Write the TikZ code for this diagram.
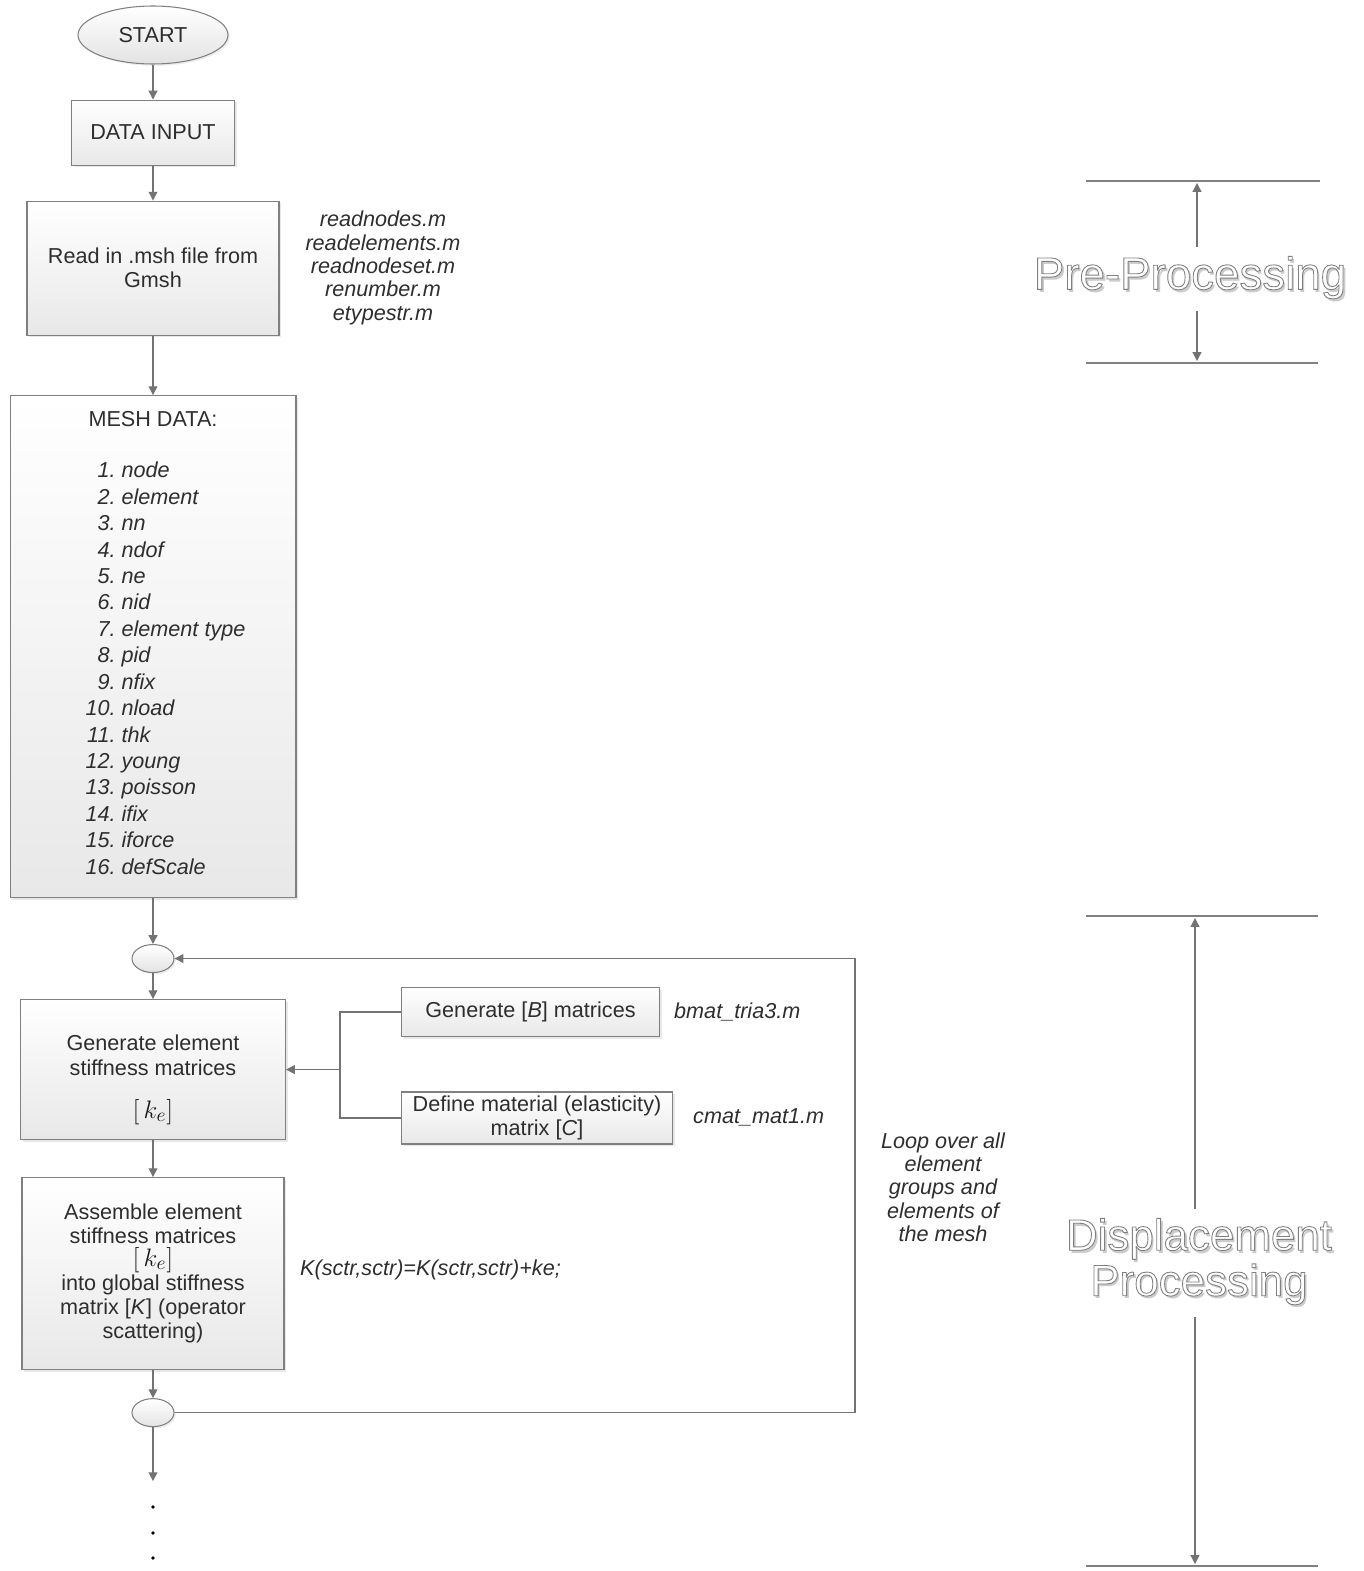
\documentclass[tikz,border=0pt]{standalone}
\usepackage{fontspec}
\setmainfont{Liberation Sans}
\usepackage{array}
\usetikzlibrary{arrows.meta, positioning, shapes.geometric, shadows, calc}

% hollow lettering (fill white, stroke grey) with a soft offset shadow
\newcommand{\hollow}[1]{\makebox[0pt][l]{\kern1.4pt\raisebox{-1.6pt}{\color{black!20}#1}}%
  {\color{white}\special{pdf:literal direct 0.5 0.5 0.5 RG 0.5 w 2 Tr}#1\special{pdf:literal direct 0 Tr}}}
\newcommand{\kmat}{\raisebox{0pt}[8pt][2pt]{\fontsize{15}{15}\selectfont\color{black!90}$\left[\,k_{e}\right]$}}

\begin{document}
\begin{tikzpicture}[
        x=0.02cm, y=-0.02cm,
        font=\fontsize{12.3}{13.8}\selectfont,
        every node/.style={text=black!82},
        box/.style={
            rectangle,
            align=center,
            draw=black!50,
            line width=0.6pt,
            top color=white,
            bottom color=black!9,
            drop shadow={shadow xshift=1.2pt, shadow yshift=-1.2pt, opacity=0.18}
        },
        term/.style={
            ellipse,
            inner sep=0pt,
            draw=black!50,
            line width=0.6pt,
            top color=white,
            bottom color=black!11,
            drop shadow={shadow xshift=1pt, shadow yshift=-1pt, opacity=0.15}
        },
        note/.style={align=center, font=\fontsize{12.3}{13.3}\selectfont\itshape},
        arr/.style={draw=black!55, line width=0.7pt, -{Triangle[length=5pt, width=5pt]}},
        link/.style={draw=black!55, line width=0.7pt},
        guide/.style={draw=black!50, line width=0.6pt},
        stage/.style={align=center, inner sep=5pt, font=\fontsize{25}{24}\selectfont}
    ]
    \useasboundingbox (0,0) rectangle (1363,1571);

    % main flow
    \node[term, minimum width=3cm, minimum height=1.16cm] (start) at (153,35) {START};
    \node[box, minimum width=3.26cm, minimum height=1.3cm, below=0.70cm of start] (input) {DATA INPUT};
    \node[box, minimum width=5.04cm, minimum height=2.68cm, below=0.70cm of input] (readmsh) {
        Read in .msh file from\\
        Gmsh
    };
    \node[box, minimum width=5.72cm, minimum height=10.04cm, below=1.19cm of readmsh] (meshdata) {
        MESH DATA:\\[15.7pt]
        \hspace*{0.5cm}\renewcommand{\arraystretch}{1.09}\itshape
        \begin{tabular}[t]{@{}>{\itshape}r@{\ }>{\itshape}l@{}}
            1. & node\\ 2. & element\\ 3. & nn\\ 4. & ndof\\
            5. & ne\\ 6. & nid\\ 7. & element type\\ 8. & pid\\
            9. & nfix\\ 10. & nload\\ 11. & thk\\ 12. & young\\
            13. & poisson\\ 14. & ifix\\ 15. & iforce\\ 16. & defScale
        \end{tabular}
    };
    \node[term, minimum width=0.84cm, minimum height=0.56cm, below=0.92cm of meshdata] (loopin) {};
    \node[box, minimum width=5.3cm, minimum height=2.8cm, below=0.52cm of loopin] (genke) {
        \rule{0pt}{19pt}Generate element\\
        stiffness matrices\\[10.6pt]
        \kmat
    };
    \node[box, minimum width=5.24cm, minimum height=3.84cm, below=0.74cm of genke] (assem) {
        Assemble element\\
        stiffness matrices\\[-1pt]
        \kmat\\
        into global stiffness\\
        matrix [\textit{K}] (operator\\
        scattering)
    };
    \node[term, minimum width=0.84cm, minimum height=0.56cm, below=0.56cm of assem] (loopout) {};

    % inputs to the element stiffness
    \node[box, anchor=west, minimum width=5.16cm, minimum height=0.98cm] (genB) at (401,1012) {Generate [\textit{B}] matrices};
    \node[box, anchor=west, minimum width=5.42cm, minimum height=1.04cm, inner ysep=1pt] (defC) at (401,1118) {
        Define material (elasticity)\\
        matrix [\textit{C}]
    };

    % side notes
    \node[note] (readfiles) at (383,268) {
        readnodes.m\\ readelements.m\\ readnodeset.m\\ renumber.m\\ etypestr.m
    };
    \node[note, anchor=west] (bmat) at (668,1012) {bmat\_tria3.m};
    \node[note, anchor=west] (cmat) at (687,1117) {cmat\_mat1.m};
    \node[note, anchor=west] (scatter) at (294,1270) {K(sctr,sctr)=K(sctr,sctr)+ke;};
    \node[note] (looptext) at (943,1187) {
        Loop over all\\ element\\ groups and\\ elements of\\ the mesh
    };

    % connectors
    \draw[arr] (start) -- (input);
    \draw[arr] (input) -- (readmsh);
    \draw[arr] (readmsh) -- (meshdata);
    \draw[arr] (meshdata) -- (loopin);
    \draw[arr] (loopin) -- (genke);
    \draw[arr] (genke) -- (assem);
    \draw[arr] (assem) -- (loopout);

    \coordinate (fork) at ([xshift=1.08cm]genke.east);
    \draw[link] (genB.west) -| (fork);
    \draw[link] (defC.west) -| (fork);
    \draw[arr] (fork) -- (genke.east);

    \coordinate (loopcorner) at (855,956);
    \draw[arr] (loopout.east) -- (loopout.east -| loopcorner) -- (loopcorner |- loopin.east) -- (loopin.east);

    \coordinate (cont) at ([yshift=-1.08cm]loopout.south);
    \draw[arr] (loopout) -- (cont);
    \foreach \y in {1507,1533,1558}
        \fill[black] (cont |- 0,\y) circle (1.1pt);

    % stage brackets
    \draw[guide] (1086,181) -- (1320,181);
    \draw[guide] (1086,363) -- (1318,363);
    \coordinate (pretop) at (1197,183);
    \coordinate (prebot) at (1197,361);
    \node[stage, font=\fontsize{26}{24}\selectfont] (pre) at (1190,279) {\hollow{Pre-Processing}};
    \draw[arr] (pre.north -| pretop) -- (pretop);
    \draw[arr] (pre.south -| prebot) -- (prebot);

    \draw[guide] (1086,916) -- (1318,916);
    \draw[guide] (1086,1566) -- (1318,1566);
    \coordinate (disptop) at (1195,918);
    \coordinate (dispbot) at (1195,1564);
    \node[stage] (disp) at (1199,1263) {\hollow{Displacement}\\ \hollow{Processing}};
    \draw[arr] (disp.north -| disptop) -- (disptop);
    \draw[arr] (disp.south -| dispbot) -- (dispbot);
\end{tikzpicture}
\end{document}
